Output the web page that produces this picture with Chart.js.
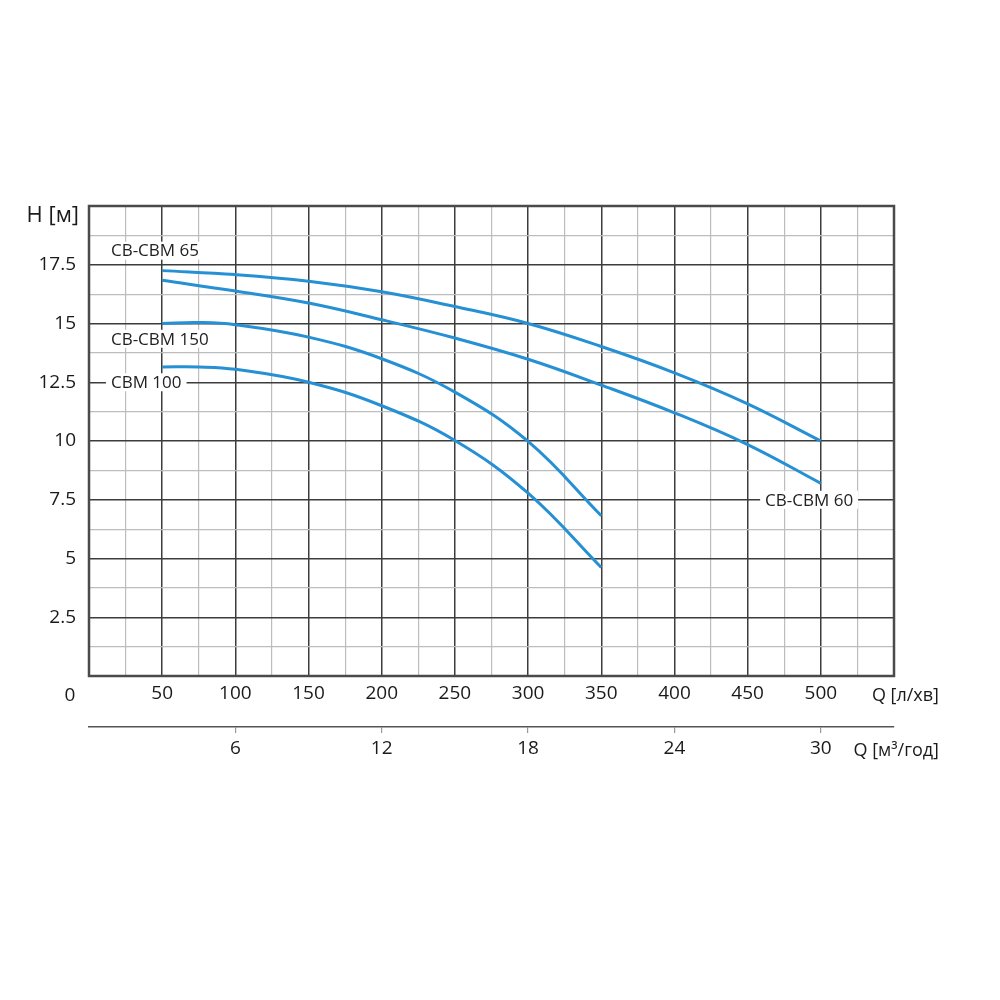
<!DOCTYPE html>
<html>
<head>
<meta charset="utf-8">
<script src="https://cdn.jsdelivr.net/npm/chart.js@4/dist/chart.umd.min.js"></script>
<style>
  html, body { margin: 0; padding: 0; background: #fff; }
  #wrap { width: 1000px; height: 1000px; }
</style>
</head>
<body>
<div id="wrap"><canvas id="pumpChart" width="1000" height="1000"></canvas></div>
<script>
// Q in l/min, H in m
const flowA = [50, 100, 150, 200, 250, 300, 350, 400, 450, 500];
const headA = [17.25, 17.08, 16.8, 16.35, 15.72, 15.0, 14.02, 12.9, 11.58, 10.0];
const flowB = [50, 100, 150, 200, 250, 300, 350, 400, 450, 500];
const headB = [16.84, 16.38, 15.87, 15.16, 14.38, 13.48, 12.38, 11.2, 9.85, 8.2];
const flowC = [50, 75, 100, 150, 200, 250, 300, 350];
const headC = [15.0, 15.04, 14.95, 14.42, 13.5, 12.08, 9.98, 6.82];
const flowD = [50, 75, 100, 150, 200, 250, 300, 350];
const headD = [13.15, 13.15, 13.05, 12.5, 11.5, 10.02, 7.78, 4.62];

const seriesNames = ['CB-CBM 65', 'CB-CBM 60', 'CB-CBM 150', 'CBM 100'];
const m3Ticks = [6, 12, 18, 24, 30];

const curveColor = '#2590d4';
const tickFont = { family: "'Open Sans', sans-serif", size: 19 };
const labelFont = "17px 'Open Sans', sans-serif";

function pts(q, h) {
  return q.map((x, i) => ({ x: x, y: h[i] }));
}

// curve captions, placed in data units
const captions = [
  { text: seriesNames[0], x: 15, y: 18.1, align: 'left' },
  { text: seriesNames[2], x: 15, y: 14.35, align: 'left' },
  { text: seriesNames[3], x: 15, y: 12.5, align: 'left' },
  { text: seriesNames[1], x: 492, y: 7.5, align: 'center' }
];

const framePlugin = {
  id: 'frame',
  beforeDatasetsDraw(chart) {
    const { ctx, chartArea: a } = chart;
    ctx.save();
    ctx.strokeStyle = '#4a4a4a';
    ctx.lineWidth = 2.5;
    ctx.strokeRect(a.left, a.top, a.right - a.left, a.bottom - a.top);
    // captions with white backing so the grid breaks around them
    ctx.font = labelFont;
    ctx.textBaseline = 'middle';
    captions.forEach(c => {
      const px = chart.scales.x.getPixelForValue(c.x);
      const py = chart.scales.y.getPixelForValue(c.y);
      const w = ctx.measureText(c.text).width;
      const left = c.align === 'center' ? px - w / 2 : px;
      ctx.fillStyle = '#fff';
      ctx.fillRect(left - 5, py - 9, w + 10, 18);
      ctx.fillStyle = '#222';
      ctx.textAlign = 'left';
      ctx.fillText(c.text, left, py + 1);
    });
    ctx.restore();
  },
  afterDraw(chart) {
    const { ctx, chartArea: a } = chart;
    ctx.save();
    ctx.fillStyle = '#1a1a1a';
    ctx.textBaseline = 'middle';
    ctx.font = "22px 'Open Sans', sans-serif";
    ctx.textAlign = 'right';
    ctx.fillText('H [м]', 79, 216);
    ctx.font = "19px 'Open Sans', sans-serif";
    ctx.textAlign = 'center';
    ctx.fillText('0', 70, a.bottom + 20);
    ctx.font = "18px 'Open Sans', sans-serif";
    ctx.textAlign = 'right';
    ctx.fillText('Q [л/хв]', 939, a.bottom + 20);
    ctx.fillText('Q [м³/год]', 939, a.bottom + 75);
    ctx.restore();
  }
};

const ctx = document.getElementById('pumpChart');
new Chart(ctx, {
  type: 'line',
  data: {
    datasets: [
      { label: seriesNames[0], data: pts(flowA, headA) },
      { label: seriesNames[1], data: pts(flowB, headB) },
      { label: seriesNames[2], data: pts(flowC, headC) },
      { label: seriesNames[3], data: pts(flowD, headD) }
    ].map(d => Object.assign(d, {
      borderColor: curveColor,
      borderWidth: 3,
      pointRadius: 0,
      fill: false,
      tension: 0.4,
      xAxisID: 'x',
      yAxisID: 'y'
    }))
  },
  options: {
    responsive: false,
    animation: false,
    layout: { padding: { top: 206, right: 106, left: 0, bottom: 0 } },
    plugins: { legend: { display: false }, tooltip: { enabled: false } },
    scales: {
      x: {
        type: 'linear',
        position: 'bottom',
        weight: 0,
        min: 0,
        max: 550,
        afterBuildTicks(scale) {
          const t = [];
          for (let v = 0; v <= 550; v += 25) t.push({ value: v });
          scale.ticks = t;
        },
        afterFit(scale) { scale.height = 51; },
        ticks: {
          autoSkip: false,
          maxRotation: 0,
          padding: 6,
          color: '#1a1a1a',
          font: tickFont,
          callback: v => (v % 50 === 0 && v > 0 && v < 550) ? v : ''
        },
        grid: {
          tickLength: 0,
          color: c => (c.tick && c.tick.value % 50 === 0) ? '#3c3c3c' : '#bdbdbd',
          lineWidth: c => (c.tick && c.tick.value % 50 === 0) ? 1.5 : 1.2
        },
        border: { display: false }
      },
      x2: {
        type: 'linear',
        position: 'bottom',
        weight: 1,
        min: 0,
        max: 33,
        afterBuildTicks(scale) {
          scale.ticks = m3Ticks.map(v => ({ value: v }));
        },
        afterFit(scale) { scale.height = 1000 - 727; },
        ticks: {
          autoSkip: false,
          maxRotation: 0,
          padding: 4,
          color: '#1a1a1a',
          font: tickFont
        },
        grid: { drawOnChartArea: false, tickLength: 6, color: '#999', lineWidth: 1.2 },
        border: { display: true, color: '#555', width: 1.5 }
      },
      y: {
        type: 'linear',
        min: 0,
        max: 20,
        afterBuildTicks(scale) {
          const t = [];
          for (let v = 0; v <= 20; v += 1.25) t.push({ value: v });
          scale.ticks = t;
        },
        afterFit(scale) { scale.width = 89; },
        ticks: {
          autoSkip: false,
          padding: 13,
          color: '#1a1a1a',
          font: tickFont,
          callback: v => (v % 2.5 === 0 && v > 0 && v < 20) ? v : ''
        },
        grid: {
          tickLength: 0,
          color: c => (c.tick && c.tick.value % 2.5 === 0) ? '#3c3c3c' : '#bdbdbd',
          lineWidth: c => (c.tick && c.tick.value % 2.5 === 0) ? 1.5 : 1.2
        },
        border: { display: false }
      }
    }
  },
  plugins: [framePlugin]
});
</script>
</body>
</html>
